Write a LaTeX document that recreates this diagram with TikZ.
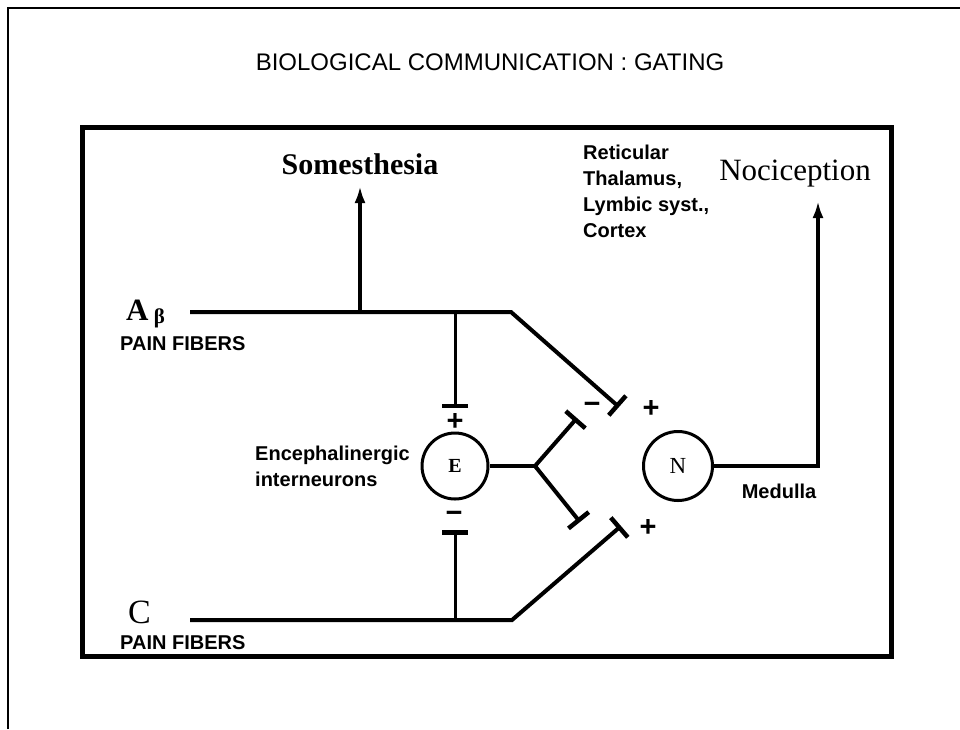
\documentclass[tikz,border=0pt]{standalone}
\usepackage{fontspec}
\setmainfont{Liberation Serif}
\setsansfont{Liberation Sans}
\usetikzlibrary{arrows.meta}

\begin{document}
\begin{tikzpicture}[x=1pt,y=-1pt,
    fiber/.style={line width=4pt},
    syn/.style={line width=4pt,-{Bar[width=26pt,line width=4.5pt]}},
    up/.style={line width=3.5pt,-{Latex[length=17pt,width=11pt]}},
    neuron/.style={circle,draw,line width=3pt,minimum size=66pt,inner sep=0pt},
    lbl/.style={font=\sffamily\bfseries\fontsize{20}{26}\selectfont,inner sep=0pt},
    sign/.style={font=\sffamily\bfseries\fontsize{29}{29}\selectfont,inner sep=0pt}]
    \useasboundingbox (0,0) rectangle (960,729);
    \draw[line width=1.5pt] (8,729) -- (8,8) -- (960,8);
    \node[font=\sffamily\fontsize{24}{24}\selectfont] (title) at (490,62) {BIOLOGICAL COMMUNICATION : GATING};
    \draw[line width=5pt] (82,127) rectangle (891,656);
    \node[neuron,font=\bfseries\fontsize{20}{20}\selectfont] (E) at (455,466) {E};
    \node[neuron,minimum size=69pt,font=\fontsize{23}{23}\selectfont] (N) at (678,466) {N};
    \node[anchor=base west,inner sep=0pt,font=\bfseries\fontsize{31}{31}\selectfont] (Ab) at (126,320) {A\,\raisebox{-3pt}{\fontsize{21}{21}\selectfont β}};
    \node[lbl,anchor=base west] (abpain) at (120,350) {PAIN FIBERS};
    \node[anchor=base west,inner sep=0pt,font=\fontsize{34}{34}\selectfont] (C) at (128,623) {C};
    \node[lbl,anchor=base west] (cpain) at (120,649) {PAIN FIBERS};
    \node[anchor=base,inner sep=0pt,font=\bfseries\fontsize{30}{30}\selectfont] (som) at (360,174) {Somesthesia};
    \node[anchor=base,inner sep=0pt,font=\fontsize{31}{31}\selectfont] (noc) at (795,180) {Nociception};
    \node[lbl,anchor=north west,align=left] (ret) at (583,145) {Reticular\\Thalamus,\\Lymbic syst.,\\Cortex};
    \node[lbl,anchor=north west,align=left] (enc) at (255,446) {Encephalinergic\\interneurons};
    \node[lbl,anchor=base] (med) at (779,498) {Medulla};
    \coordinate (abstart) at (190,312);
    \coordinate (somjoin) at (360,312);
    \coordinate (somtip) at (360,186);
    \coordinate (ejoin) at (455,312);
    \coordinate (ebar) at (455,408);
    \coordinate (abturn) at (511,312);
    \coordinate (absyn) at (619,407);
    \coordinate (cstart) at (190,620);
    \coordinate (cjoin) at (455,620);
    \coordinate (cbar) at (455,530);
    \coordinate (cturn) at (512,620);
    \coordinate (csyn) at (621,526);
    \coordinate (fork) at (535,466);
    \coordinate (eupsyn) at (577,418);
    \coordinate (edownsyn) at (580,522);
    \coordinate (ncorner) at (818,466);
    \coordinate (noctip) at (818,201);
    \draw[syn] (abstart) -- (abturn) -- (absyn);
    \draw[up] (somjoin) -- (somtip);
    \draw[syn,line width=3pt] (ejoin) -- (ebar);
    \draw[syn] (cstart) -- (cturn) -- (csyn);
    \draw[syn,line width=3pt] (cjoin) -- (cbar);
    \draw[fiber] (E) -- (fork);
    \draw[syn] (fork) -- (eupsyn);
    \draw[syn] (fork) -- (edownsyn);
    \draw[up] (N) -- (ncorner) -- (noctip);
    \node[sign] (eplus) at (455,422) {+};
    \node[sign] (eminus) at (454,517) {−};
    \node[sign] (nminus) at (592,408) {−};
    \node[sign] (nplustop) at (651,409) {+};
    \node[sign] (nplusbot) at (648,528) {+};
\end{tikzpicture}
\end{document}
